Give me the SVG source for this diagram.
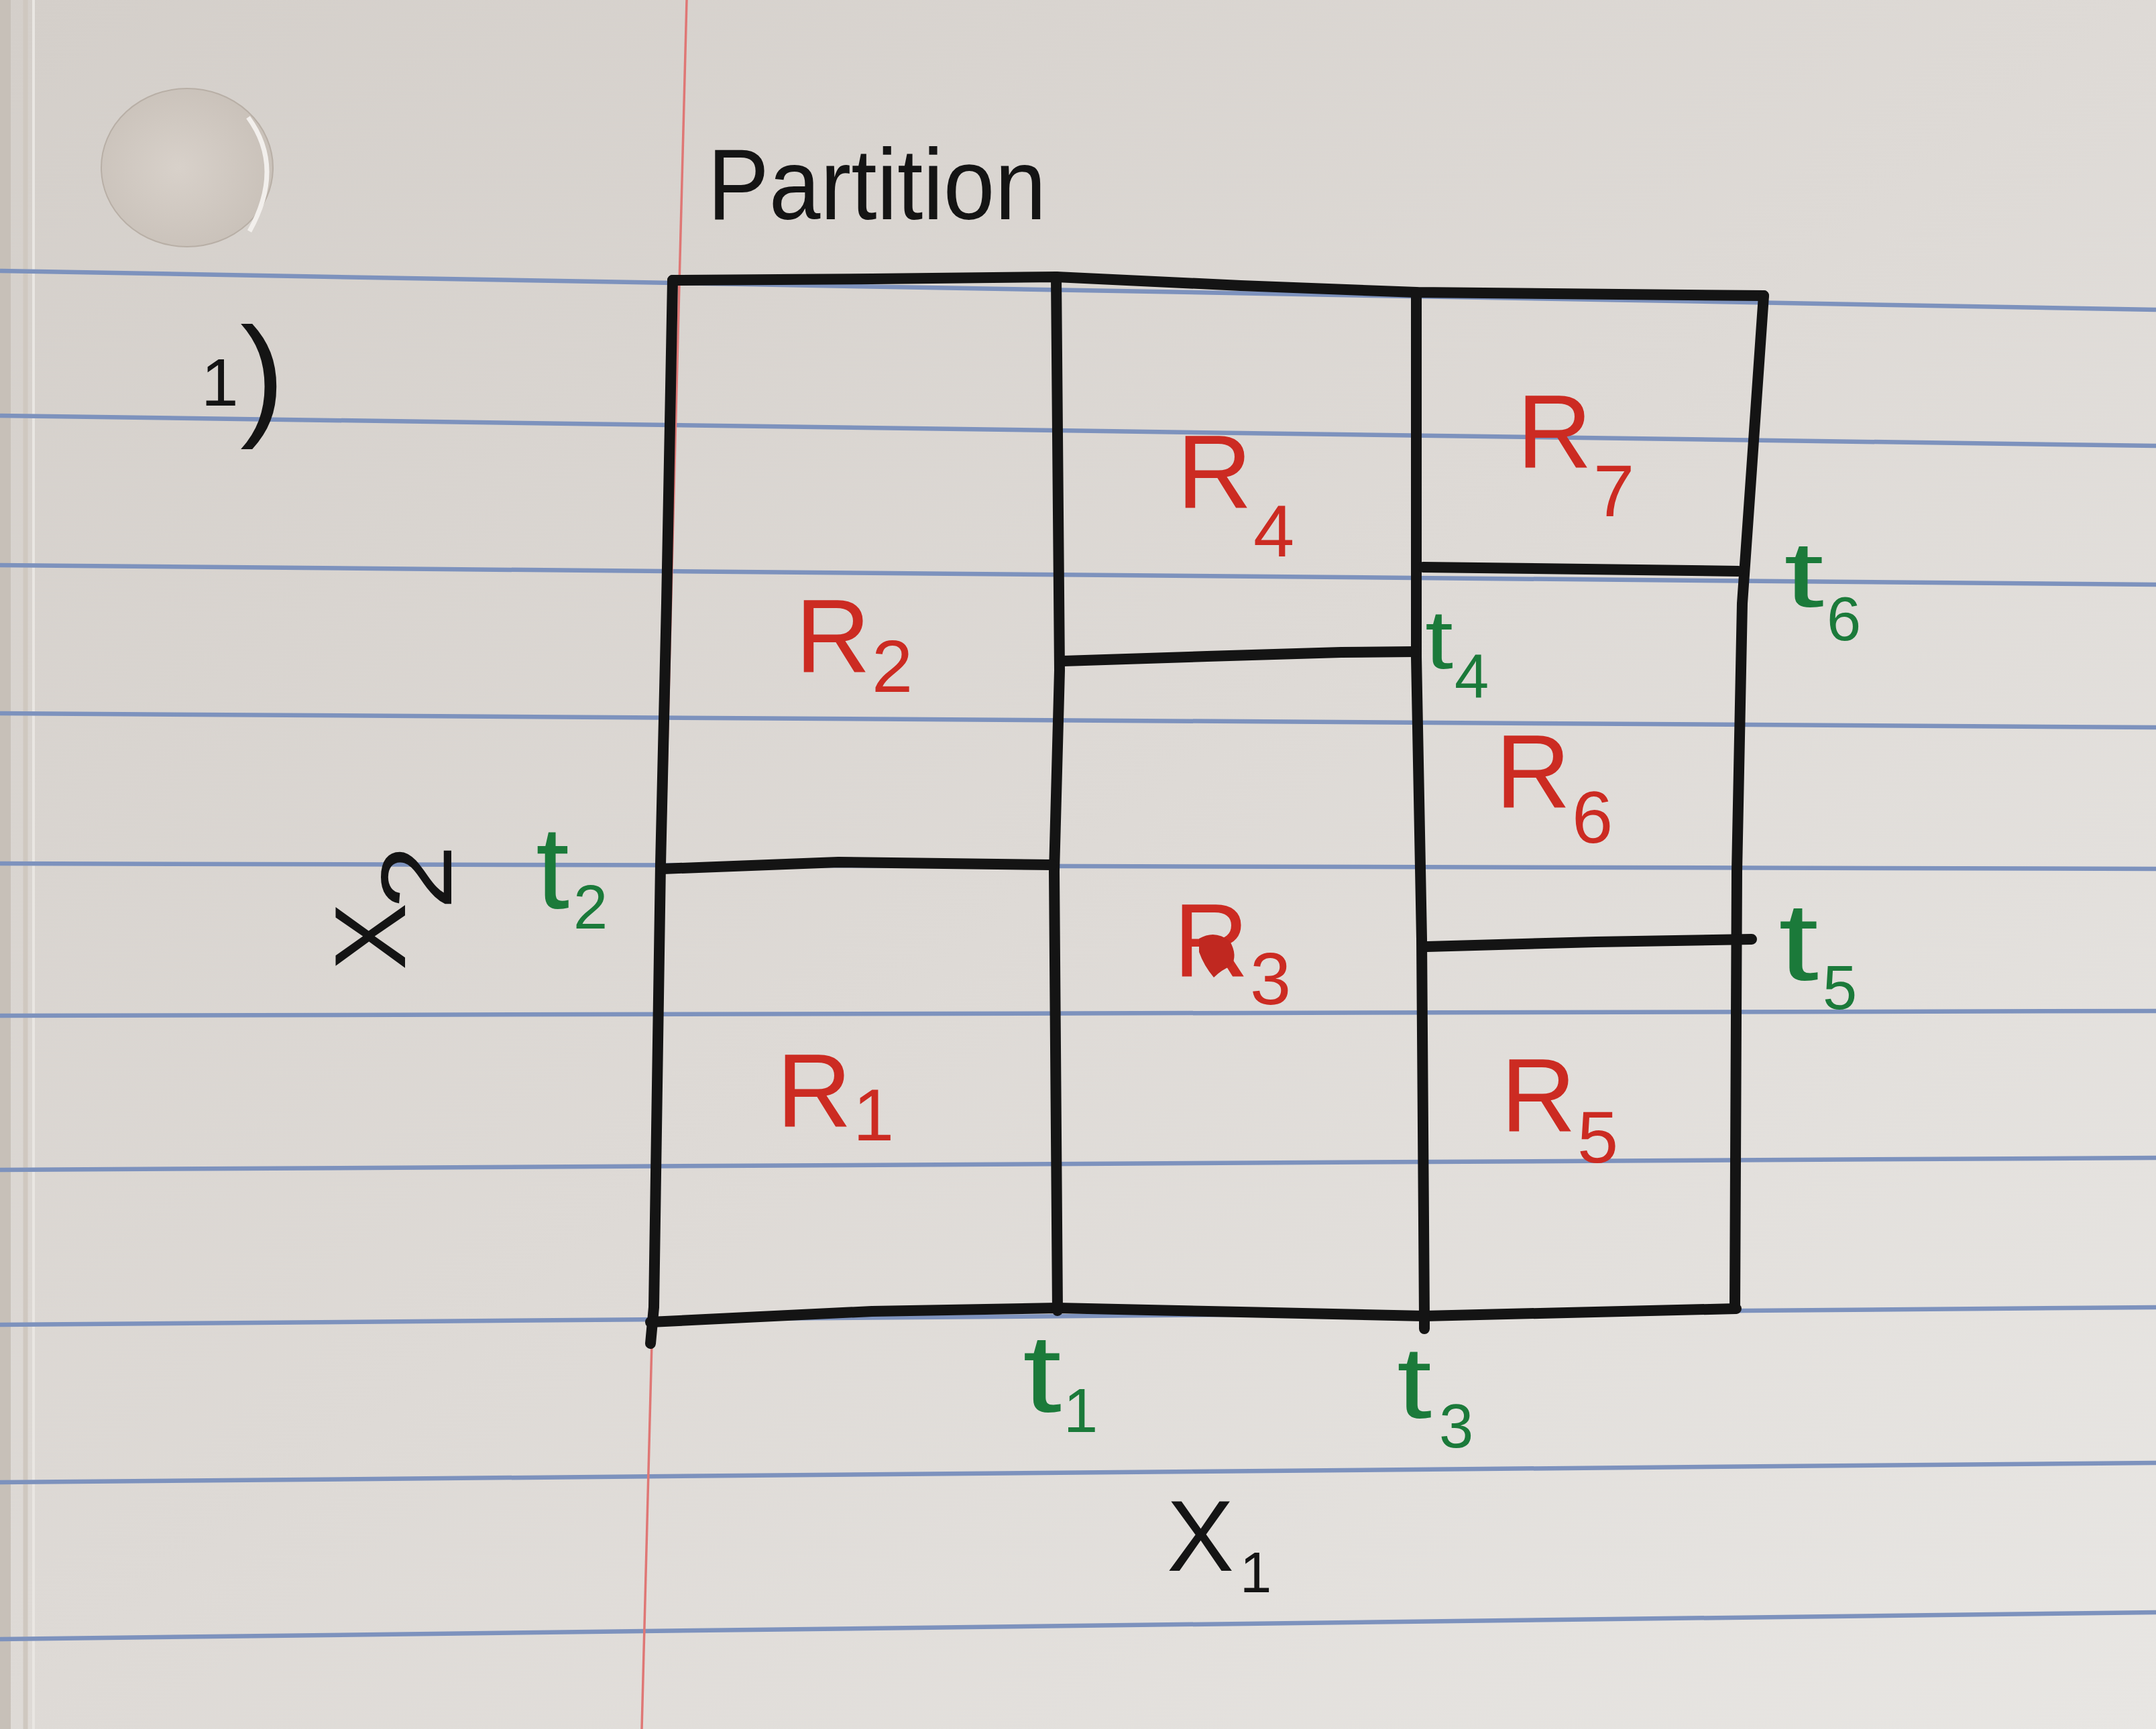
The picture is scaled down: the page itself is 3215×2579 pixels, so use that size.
<svg xmlns="http://www.w3.org/2000/svg" width="3215" height="2579" viewBox="0 0 3215 2579">
<defs>
<linearGradient id="paper" x1="0" y1="0" x2="1" y2="1">
<stop offset="0" stop-color="#d4cfca"/>
<stop offset="0.5" stop-color="#dedad6"/>
<stop offset="1" stop-color="#e8e6e3"/>
</linearGradient>
<radialGradient id="holeg" cx="0.45" cy="0.5" r="0.6">
<stop offset="0" stop-color="#d8d1ca"/>
<stop offset="1" stop-color="#c8c0b8"/>
</radialGradient>
</defs>
<style>
.rule{fill:none;stroke:#7d92bd;stroke-width:6.5}
.margin{fill:none;stroke:#df7775;stroke-width:3.5}
.ink{fill:none;stroke:#141414;stroke-width:16;stroke-linecap:round;stroke-linejoin:round}
.red{fill:#cc2b22;font-family:"Liberation Sans",Arial,sans-serif;font-size:155px}
.grn{fill:#1b7a3a;font-family:"Liberation Sans",Arial,sans-serif;font-size:165px}
.blk{fill:#141414;font-family:"Liberation Sans",Arial,sans-serif;font-size:150px}
.rsub{font-size:110px}
.tsub{font-size:92px}
</style>

<g id="paper-bg">
<rect x="0" y="0" width="3215" height="2579" fill="url(#paper)"/>
<rect x="0" y="0" width="16" height="2579" fill="#c7c0b8"/>
<line x1="38" y1="0" x2="38" y2="2579" stroke="#cfc8c0" stroke-width="7"/>
<line x1="50" y1="0" x2="50" y2="2579" stroke="#e9e6e2" stroke-width="4"/>
<ellipse id="punch-hole" cx="279" cy="250" rx="128" ry="118" fill="url(#holeg)" stroke="#b8afa6" stroke-width="2"/>
<path d="M370,175 Q425,250 372,345" fill="none" stroke="#f2efec" stroke-width="7"/>
</g>

<g id="ruled-lines">
<path class="rule" d="M0,404 L3215,462"/>
<path class="rule" d="M0,620 L3215,665"/>
<path class="rule" d="M0,843 L3215,872"/>
<path class="rule" d="M0,1064 L3215,1085"/>
<path class="rule" d="M0,1288 L3215,1296"/>
<path class="rule" d="M0,1515 L3215,1508"/>
<path class="rule" d="M0,1745 L3215,1727"/>
<path class="rule" d="M0,1976 L3215,1950"/>
<path class="rule" d="M0,2211 L3215,2182"/>
<path class="rule" d="M0,2445 L3215,2405"/>
<path class="margin" d="M1024,0 L957,2579"/>
</g>

<g id="connectors">
<path id="outer-top" class="ink" d="M1003,418 L1300,416 L1575,413 L1850,426 L2112,436 L2630,441"/>
<path id="outer-left" class="ink" d="M1003,418 L994,900 L985,1290 L975,1950 L970,2004"/>
<path id="outer-bottom" class="ink" d="M970,1972 L1300,1956 L1577,1951 L1850,1957 L2124,1963 L2589,1952"/>
<path id="outer-right" class="ink" d="M2630,441 L2612,700 L2598,900 L2590,1300 L2587,1952"/>
<path id="split-t1" class="ink" d="M1575,413 L1580,1000 L1572,1300 L1577,1955"/>
<path id="split-t3" class="ink" d="M2112,436 L2112,980 L2120,1400 L2124,1965 L2124,1982"/>
<path id="split-t2" class="ink" d="M988,1296 L1250,1286 L1568,1290"/>
<path id="split-t4" class="ink" d="M1586,986 L1800,979 L2000,973 L2110,972"/>
<path id="split-t6" class="ink" d="M2122,846 L2592,852"/>
<path id="split-t5" class="ink" d="M2128,1412 L2380,1405 L2612,1401"/>
</g>

<g id="title"><text class="blk" x="1055" y="327" textLength="505" lengthAdjust="spacingAndGlyphs">Partition</text></g>
<g id="number"><text class="blk"><tspan x="300" y="605" font-size="100">1</tspan><tspan x="358" y="628" font-size="200">)</tspan></text></g>

<g id="R1"><text class="red"><tspan x="1158" y="1681">R</tspan><tspan class="rsub" x="1272" y="1701">1</tspan></text></g>
<g id="R2"><text class="red"><tspan x="1186" y="1003">R</tspan><tspan class="rsub" x="1300" y="1032">2</tspan></text></g>
<g id="R3"><text class="red"><tspan x="1750" y="1457">R</tspan><tspan class="rsub" x="1864" y="1498">3</tspan></text>
<path d="M1788,1400 Q1812,1386 1834,1404 Q1846,1425 1836,1441 Q1822,1446 1810,1458 Q1795,1440 1788,1420 Z" fill="#c02820"/></g>
<g id="R4"><text class="red"><tspan x="1755" y="758">R</tspan><tspan class="rsub" x="1869" y="830">4</tspan></text></g>
<g id="R5"><text class="red"><tspan x="2238" y="1688">R</tspan><tspan class="rsub" x="2352" y="1734">5</tspan></text></g>
<g id="R6"><text class="red"><tspan x="2230" y="1205">R</tspan><tspan class="rsub" x="2344" y="1257">6</tspan></text></g>
<g id="R7"><text class="red"><tspan x="2262" y="698">R</tspan><tspan class="rsub" x="2376" y="770">7</tspan></text></g>

<g id="t1"><text class="grn"><tspan x="1525" y="2106" textLength="58" lengthAdjust="spacingAndGlyphs">t</tspan><tspan class="tsub" x="1586" y="2136">1</tspan></text></g>
<g id="t2"><text class="grn"><tspan x="799" y="1355" font-size="175" textLength="50" lengthAdjust="spacingAndGlyphs">t</tspan><tspan class="tsub" x="855" y="1385">2</tspan></text></g>
<g id="t3"><text class="grn"><tspan x="2083" y="2115" font-size="152" textLength="52" lengthAdjust="spacingAndGlyphs">t</tspan><tspan class="tsub" x="2146" y="2159">3</tspan></text></g>
<g id="t4"><text class="grn"><tspan x="2125" y="997" font-size="125" textLength="42" lengthAdjust="spacingAndGlyphs">t</tspan><tspan class="tsub" x="2169" y="1040" font-size="88">4</tspan></text></g>
<g id="t5"><text class="grn"><tspan x="2652" y="1462" textLength="60" lengthAdjust="spacingAndGlyphs">t</tspan><tspan class="tsub" x="2718" y="1505">5</tspan></text></g>
<g id="t6"><text class="grn"><tspan x="2660" y="905" font-size="140" textLength="60" lengthAdjust="spacingAndGlyphs">t</tspan><tspan class="tsub" x="2724" y="955">6</tspan></text></g>

<g id="X1"><text class="blk" font-size="160"><tspan x="1740" y="2343">X</tspan><tspan x="1849" y="2375" font-size="85">1</tspan></text></g>
<g id="X2" transform="translate(604,1447) rotate(-90)"><text class="blk" font-size="130"><tspan x="0" y="0">X</tspan><tspan x="90" y="69" font-size="150" textLength="97" lengthAdjust="spacingAndGlyphs">2</tspan></text></g>
</svg>
